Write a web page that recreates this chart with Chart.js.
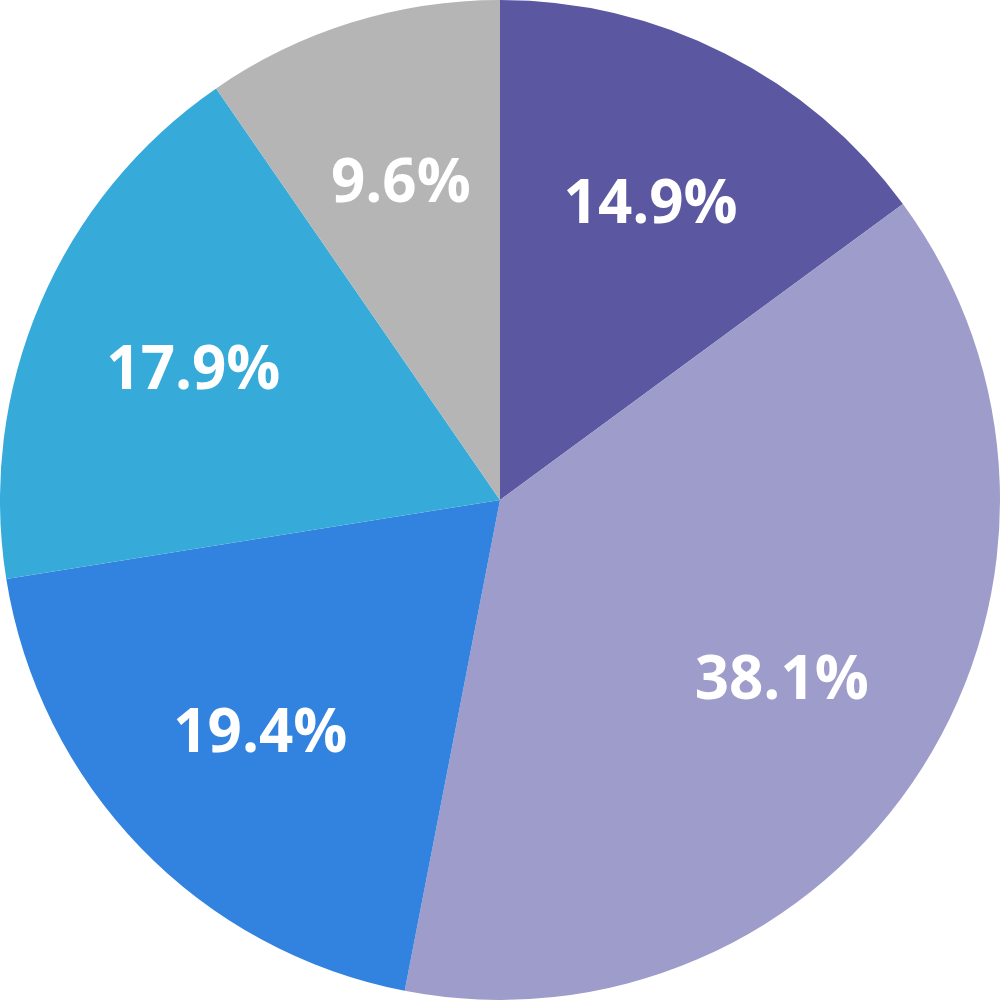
<!DOCTYPE html>
<html>
<head>
<meta charset="utf-8">
<script src="https://cdn.jsdelivr.net/npm/chart.js@4/dist/chart.umd.min.js"></script>
<style>
html,body{margin:0;padding:0;background:#fff;}
#wrap{width:1000px;height:1000px;}
</style>
</head>
<body>
<div id="wrap"><canvas id="c" width="1000" height="1000"></canvas></div>
<script>
const categories = ["A", "B", "C", "D", "E"];
const values = [14.9, 38.1, 19.4, 17.9, 9.6];
const labels = ["14.9%", "38.1%", "19.4%", "17.9%", "9.6%"];
const colors = ["#5B57A0", "#9E9CCA", "#3282DF", "#36ABDA", "#B5B5B5"];

const labelPlugin = {
  id: 'sliceLabels',
  afterDatasetsDraw(chart) {
    const ctx = chart.ctx;
    const meta = chart.getDatasetMeta(0);
    ctx.save();
    ctx.fillStyle = '#ffffff';
    ctx.font = 'bold 60px "Open Sans", sans-serif';
    ctx.textAlign = 'center';
    ctx.textBaseline = 'middle';
    meta.data.forEach((arc, i) => {
      const p = arc.getProps(['x','y','startAngle','endAngle','outerRadius'], true);
      const mid = (p.startAngle + p.endAngle) / 2;
      const r = p.outerRadius * 0.667;
      const x = p.x + Math.cos(mid) * r;
      const y = p.y + Math.sin(mid) * r + 3;
      ctx.fillText(labels[i], x, y);
    });
    ctx.restore();
  }
};

new Chart(document.getElementById('c'), {
  type: 'pie',
  data: {
    labels: categories,
    datasets: [{
      data: values,
      backgroundColor: colors,
      borderWidth: 0
    }]
  },
  options: {
    responsive: false,
    animation: false,
    layout: { padding: 0 },
    plugins: {
      legend: { display: false },
      tooltip: { enabled: false }
    }
  },
  plugins: [labelPlugin]
});
</script>
</body>
</html>
